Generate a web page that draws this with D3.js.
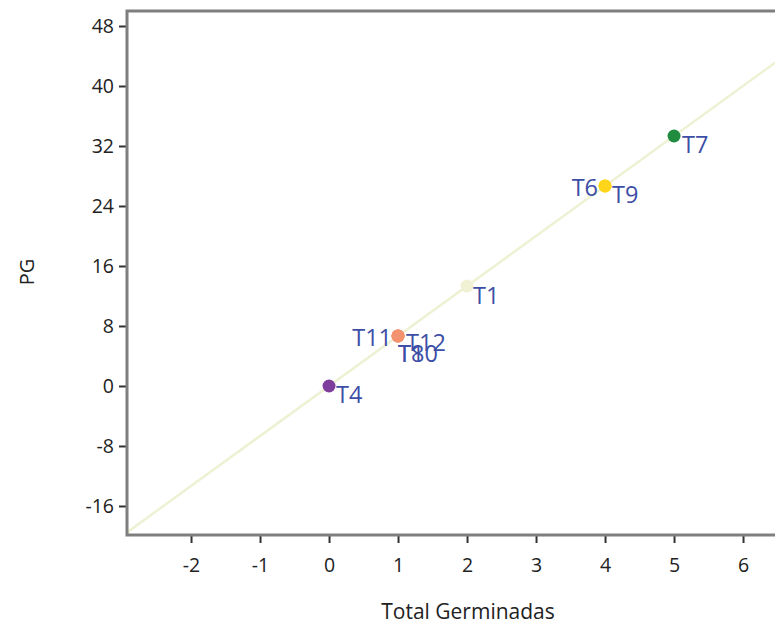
<!DOCTYPE html>
<html><head><meta charset="utf-8">
<script src="https://cdn.jsdelivr.net/npm/d3@7"></script>
<style>body{margin:0;background:#fff}svg{display:block}</style>
</head><body><svg id="c" width="775" height="627"></svg>
<script>
const names = ["T1","T4","T6","T7","T9","T11","T12","T8","T10"];
const totalGerminadas = [2,0,4,5,4,1,1,1,1];
const pg = [13.33,0,26.67,33.33,26.67,6.67,6.67,6.67,6.67];
const xTicks = [-2,-1,0,1,2,3,4,5,6];
const yTicks = [-16,-8,0,8,16,24,32,40,48];
const fitSlope = 6.667;

const colorOf = {T1:"#f1f1d6",T4:"#7e3f9c",T6:"#ffd51a",T9:"#ffd51a",T7:"#1f8c3f",T11:"#f3926e",T12:"#f3926e",T8:"#f3926e",T10:"#f3926e"};
const labelPos = {T1:[6,10,"start"],T4:[7,9,"start"],T6:[-7,2,"end"],T9:[7,9,"start"],T7:[8,9,"start"],
  T11:[-6,2,"end"],T12:[8,7,"start"],T8:[0,18,"start"],T10:[0,18,"start"]};

const svg = d3.select("#c");
const L=127, T=11, B=535;
const x = d3.scaleLinear().domain([-2.928, 7]).range([L, L + 9.928*69]);
const y = d3.scaleLinear().domain([-19.87, 50]).range([B, T]);

const defs = svg.append("defs");
defs.append("clipPath").attr("id","pc").append("rect").attr("x",L).attr("y",T).attr("width",775-L).attr("height",B-T);

const x0 = x.domain()[0], x1 = x.domain()[1];
svg.append("line").attr("clip-path","url(#pc)")
  .attr("x1",x(x0)).attr("y1",y(fitSlope*x0)).attr("x2",x(x1)).attr("y2",y(fitSlope*x1))
  .attr("stroke","#eef1d3").attr("stroke-width",2.5);

const font = "'Open Sans', 'Noto Sans', sans-serif";
const fmt = d => String(d);
const gx = svg.append("g").attr("transform",`translate(0,${B})`)
  .call(d3.axisBottom(x).tickValues(xTicks).tickFormat(fmt).tickSize(8).tickSizeOuter(0).tickPadding(15));
const gy = svg.append("g").attr("transform",`translate(${L},0)`)
  .call(d3.axisLeft(y).tickValues(yTicks).tickFormat(fmt).tickSize(8).tickSizeOuter(0).tickPadding(5));
[gx,gy].forEach(g=>{
  g.select(".domain").remove();
  g.selectAll(".tick line").attr("stroke","#333").attr("stroke-width",2);
  g.selectAll(".tick text").attr("font-family",font).attr("font-size",19.5).attr("fill","#222");
});
svg.append("path").attr("d",`M775,${T}H${L}V${B}H775`).attr("fill","none").attr("stroke","#7f7f7f").attr("stroke-width",3);

const idx = d3.range(names.length);
svg.append("g").selectAll("circle").data(idx).join("circle")
  .attr("cx",i=>x(totalGerminadas[i])).attr("cy",i=>y(pg[i])).attr("r",6.5)
  .attr("fill",i=>colorOf[names[i]]);

svg.append("g").selectAll("text").data(idx).join("text")
  .attr("x",i=>x(totalGerminadas[i])+labelPos[names[i]][0])
  .attr("y",i=>y(pg[i])+labelPos[names[i]][1])
  .attr("dy","0.35em").attr("text-anchor",i=>labelPos[names[i]][2])
  .attr("font-family",font).attr("font-size",23.5).attr("fill","#3d4ea6")
  .text(i=>names[i]);

svg.append("text").attr("x",468).attr("y",619).attr("text-anchor","middle")
  .attr("font-family",font).attr("font-size",21).attr("fill","#222").text("Total Germinadas");
svg.append("text").attr("transform","translate(34,272) rotate(-90)").attr("text-anchor","middle")
  .attr("font-family",font).attr("font-size",20).attr("fill","#222").text("PG");
</script></body></html>
